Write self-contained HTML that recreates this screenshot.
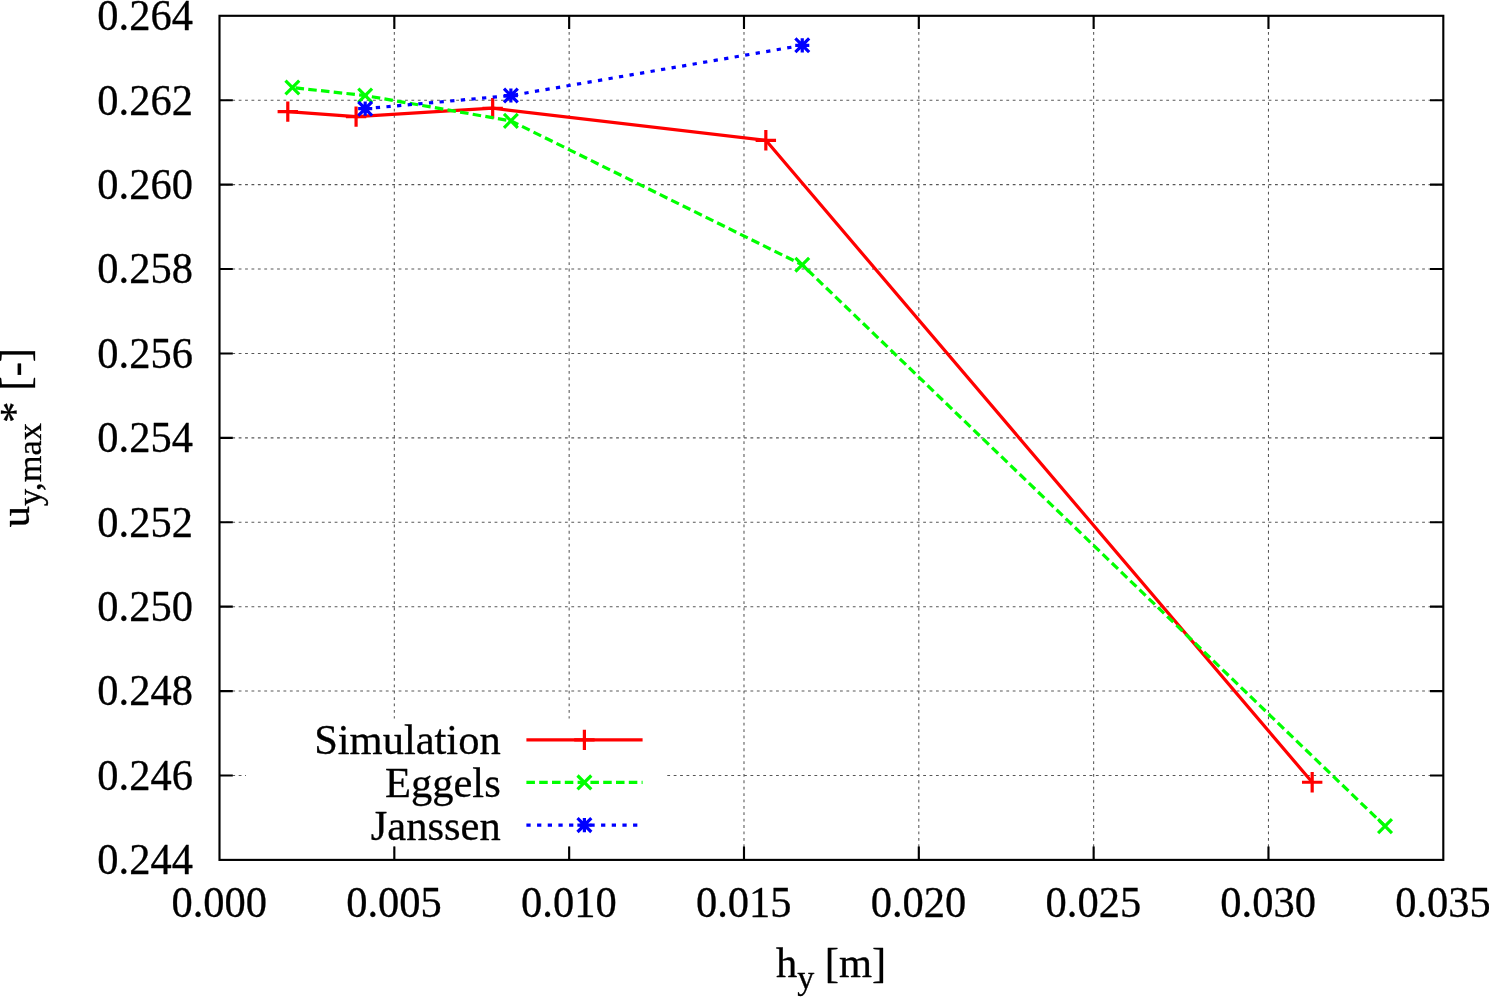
<!DOCTYPE html>
<html lang="en"><head><meta charset="utf-8"><title>u_y,max* vs h_y</title>
<style>html,body{margin:0;padding:0;background:#fff}body{width:1489px;height:997px;overflow:hidden}svg{display:block}text{font-family:"Liberation Serif","Times New Roman",Times,serif;fill:#000;stroke:#000;stroke-width:.3px;stroke-linejoin:round}</style></head><body>
<svg width="1489" height="997" viewBox="0 0 1489 997">
<rect width="1489" height="997" fill="#fff"/>
<path d="M394.33 859.9 V15.8 M569.16 859.9 V15.8 M743.99 859.9 V15.8 M918.81 859.9 V15.8 M1093.64 859.9 V15.8 M1268.47 859.9 V15.8 M219.5 775.49 H1443.3 M219.5 691.08 H1443.3 M219.5 606.67 H1443.3 M219.5 522.26 H1443.3 M219.5 437.85 H1443.3 M219.5 353.44 H1443.3 M219.5 269.03 H1443.3 M219.5 184.62 H1443.3 M219.5 100.21 H1443.3" stroke="#000" stroke-opacity="0.66" stroke-width="1.07" stroke-dasharray="2.8 3.597" fill="none"/>
<rect x="246" y="718.5" width="421" height="128" fill="#fff"/>
<path d="M394.33 859.9 v-13.3 M394.33 15.8 v13.3 M569.16 859.9 v-13.3 M569.16 15.8 v13.3 M743.99 859.9 v-13.3 M743.99 15.8 v13.3 M918.81 859.9 v-13.3 M918.81 15.8 v13.3 M1093.64 859.9 v-13.3 M1093.64 15.8 v13.3 M1268.47 859.9 v-13.3 M1268.47 15.8 v13.3 M219.5 775.49 h13.3 M1443.3 775.49 h-13.3 M219.5 691.08 h13.3 M1443.3 691.08 h-13.3 M219.5 606.67 h13.3 M1443.3 606.67 h-13.3 M219.5 522.26 h13.3 M1443.3 522.26 h-13.3 M219.5 437.85 h13.3 M1443.3 437.85 h-13.3 M219.5 353.44 h13.3 M1443.3 353.44 h-13.3 M219.5 269.03 h13.3 M1443.3 269.03 h-13.3 M219.5 184.62 h13.3 M1443.3 184.62 h-13.3 M219.5 100.21 h13.3 M1443.3 100.21 h-13.3" stroke="#000" stroke-width="2.13" fill="none"/>
<text transform="translate(192.9 874.2) scale(1 1.045)" font-size="42.5" text-anchor="end">0.244</text>
<text transform="translate(192.9 789.79) scale(1 1.045)" font-size="42.5" text-anchor="end">0.246</text>
<text transform="translate(192.9 705.38) scale(1 1.045)" font-size="42.5" text-anchor="end">0.248</text>
<text transform="translate(192.9 620.97) scale(1 1.045)" font-size="42.5" text-anchor="end">0.250</text>
<text transform="translate(192.9 536.56) scale(1 1.045)" font-size="42.5" text-anchor="end">0.252</text>
<text transform="translate(192.9 452.15) scale(1 1.045)" font-size="42.5" text-anchor="end">0.254</text>
<text transform="translate(192.9 367.74) scale(1 1.045)" font-size="42.5" text-anchor="end">0.256</text>
<text transform="translate(192.9 283.33) scale(1 1.045)" font-size="42.5" text-anchor="end">0.258</text>
<text transform="translate(192.9 198.92) scale(1 1.045)" font-size="42.5" text-anchor="end">0.260</text>
<text transform="translate(192.9 114.51) scale(1 1.045)" font-size="42.5" text-anchor="end">0.262</text>
<text transform="translate(192.9 30.1) scale(1 1.045)" font-size="42.5" text-anchor="end">0.264</text>
<text transform="translate(219.2 917.1) scale(1 1.04)" font-size="42.5" text-anchor="middle">0.000</text>
<text transform="translate(394.03 917.1) scale(1 1.04)" font-size="42.5" text-anchor="middle">0.005</text>
<text transform="translate(568.86 917.1) scale(1 1.04)" font-size="42.5" text-anchor="middle">0.010</text>
<text transform="translate(743.69 917.1) scale(1 1.04)" font-size="42.5" text-anchor="middle">0.015</text>
<text transform="translate(918.51 917.1) scale(1 1.04)" font-size="42.5" text-anchor="middle">0.020</text>
<text transform="translate(1093.34 917.1) scale(1 1.04)" font-size="42.5" text-anchor="middle">0.025</text>
<text transform="translate(1268.17 917.1) scale(1 1.04)" font-size="42.5" text-anchor="middle">0.030</text>
<text transform="translate(1443 917.1) scale(1 1.04)" font-size="42.5" text-anchor="middle">0.035</text>
<g stroke="#f00" stroke-width="3.2" fill="none"><polyline points="287.79,111.61 356.08,116.67 492.67,108.23 765.84,140.3 1312.18,782.24"/><path d="M277.59 111.61 h20.4 M287.79 101.41 v20.4 M345.88 116.67 h20.4 M356.08 106.47 v20.4 M482.47 108.23 h20.4 M492.67 98.03 v20.4 M755.64 140.3 h20.4 M765.84 130.1 v20.4 M1301.98 782.24 h20.4 M1312.18 772.04 v20.4"/><path d="M526.4 739.85 H642.6"/><path d="M574.2 739.85 h20.4 M584.4 729.65 v20.4"/></g>
<g stroke="#0f0" stroke-width="3.2" fill="none"><polyline points="292.35,87.55 365.19,95.57 510.88,120.89 802.26,264.81 1385.02,826.14" stroke-dasharray="8.533 4.267" stroke-dashoffset="-3.2"/><path d="M285.45 80.65 l13.8 13.8 M285.45 94.45 l13.8 -13.8 M358.29 88.67 l13.8 13.8 M358.29 102.47 l13.8 -13.8 M503.98 113.99 l13.8 13.8 M503.98 127.79 l13.8 -13.8 M795.36 257.91 l13.8 13.8 M795.36 271.71 l13.8 -13.8 M1378.12 819.24 l13.8 13.8 M1378.12 833.04 l13.8 -13.8"/><path d="M526.4 782.4 H642.6" stroke-dasharray="8.533 4.267"/><path d="M577.5 775.5 l13.8 13.8 M577.5 789.3 l13.8 -13.8"/></g>
<g stroke="#00f" stroke-width="3.2" fill="none"><polyline points="365.19,108.65 510.88,95.57 802.26,45.34" stroke-dasharray="4.267 6.4"/><path d="M358.14 108.65 h14.1 M365.19 101.6 v14.1 M358.29 101.75 l13.8 13.8 M358.29 115.55 l13.8 -13.8 M503.83 95.57 h14.1 M510.88 88.52 v14.1 M503.98 88.67 l13.8 13.8 M503.98 102.47 l13.8 -13.8 M795.21 45.34 h14.1 M802.26 38.29 v14.1 M795.36 38.44 l13.8 13.8 M795.36 52.24 l13.8 -13.8"/><path d="M526.4 825.1 H642.6" stroke-dasharray="4.267 6.4"/><path d="M577.35 825.1 h14.1 M584.4 818.05 v14.1 M577.5 818.2 l13.8 13.8 M577.5 832 l13.8 -13.8"/></g>
<text x="500.7" y="754.05" font-size="42.5" text-anchor="end">Simulation</text>
<text x="500.7" y="796.75" font-size="42.5" text-anchor="end">Eggels</text>
<text x="500.7" y="839.5" font-size="42.5" text-anchor="end">Janssen</text>
<rect x="219.5" y="15.8" width="1223.8" height="844.1" fill="none" stroke="#000" stroke-width="2.13"/>
<text x="775.9" y="976.6" font-size="42.5">h<tspan font-size="34" dy="12.6">y</tspan><tspan dy="-12.6"> [m]</tspan></text>
<text transform="translate(28.7 527.4) rotate(-90)" font-size="43">u<tspan font-size="34.4" dy="12.6">y,max</tspan><tspan dy="-12.6">* [-]</tspan></text>
</svg></body></html>
